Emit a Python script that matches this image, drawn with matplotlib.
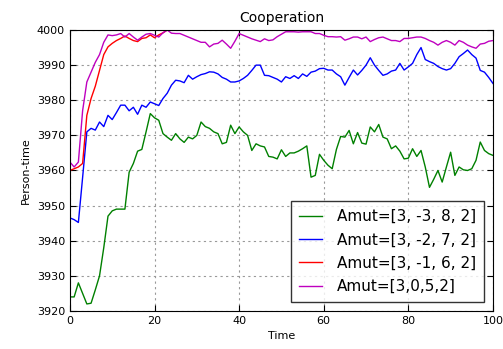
import matplotlib.pyplot as plt

# time steps shared by most runs
time = list(range(101))

amut_m3 = [3924, 3924, 3928, 3925, 3922, 3922.2, 3926, 3930, 3938, 3947,
           3948.5, 3949, 3949, 3949, 3959.5, 3962, 3965.5, 3966, 3971, 3976.2,
           3975, 3974.3, 3970.5, 3969.5, 3968.6, 3970.5, 3969, 3968, 3969.5, 3969,
           3970, 3973.8, 3972.5, 3972, 3971, 3970.5, 3967.6, 3968, 3972.9, 3970.5,
           3972.4, 3971, 3970, 3965.7, 3967.6, 3967, 3966.7, 3964, 3963.8, 3963.3,
           3965.9, 3964, 3965, 3965, 3965.5, 3966.2, 3967, 3958.1, 3958.6, 3964.6,
           3962.9, 3961.5, 3960.5, 3966, 3969.7, 3969.5, 3971.4, 3967.6, 3970.8, 3967.8,
           3967.5, 3972.4, 3971, 3973.1, 3969.5, 3969, 3966.2, 3967, 3965.5, 3963.3,
           3963.5, 3966.2, 3964, 3965.7, 3961, 3955.2, 3957.5, 3960, 3956.7, 3961,
           3965.2, 3958.6, 3961, 3960.2, 3960, 3960.5, 3962.9, 3968.1, 3965.7, 3964.8,
           3964.3]

amut_m2 = [3946.5, 3946, 3945.2, 3958, 3971, 3972, 3971.5, 3973.8, 3972.5, 3975.7,
           3974.5, 3976.5, 3978.6, 3978.6, 3977, 3978, 3976, 3978.6, 3978, 3979.5,
           3979, 3978.5, 3980.5, 3982, 3984.3, 3985.7, 3985.5, 3985, 3987.1, 3986,
           3986.7, 3987.3, 3987.6, 3988.1, 3988, 3987.5, 3986.5, 3986, 3985.2, 3985.2,
           3985.5, 3986.2, 3987.1, 3988.5, 3990, 3990, 3987.1, 3987, 3986.5, 3986,
           3985.2, 3986.7, 3986.2, 3987, 3986.2, 3987.5, 3986.8, 3988, 3988.3, 3989,
           3989.1, 3988.6, 3988.6, 3987.5, 3986.7, 3984.3, 3986.5, 3988.6, 3987.2, 3988.5,
           3990, 3992.1, 3990, 3988.5, 3987.1, 3987.5, 3988.3, 3988.6, 3990.5, 3988.6,
           3989.5, 3990.5, 3993, 3995, 3991.6, 3991, 3990.5, 3989.6, 3989, 3988.6,
           3989, 3990.5, 3992.4, 3993.3, 3994.3, 3993, 3992, 3988.5, 3988, 3986.5,
           3984.8]

# this run saturates at 4000 after t=23
time_m1 = list(range(24)) + [100]
amut_m1 = [3960, 3960.5, 3961, 3962, 3975.7, 3980.5, 3984, 3988.5, 3993, 3995.2,
           3996.2, 3997, 3997.6, 3998.3, 3997.6, 3997, 3996.7, 3997.6, 3997.8, 3998.6,
           3997.8, 3998.6, 3999.2, 4000, 4000]

amut_0 = [3962.4, 3961, 3962.4, 3977, 3985.2, 3988, 3990.8, 3993, 3996.5, 3998.6,
          3998.4, 3998.6, 3999, 3998, 3999, 3998, 3997.1, 3998, 3998.8, 3999,
          3998.5, 3998, 3999.2, 4000, 3999.1, 3999, 3999, 3998.5, 3998, 3997.5,
          3997, 3996.5, 3996.5, 3995.2, 3996, 3996.2, 3997.1, 3996, 3994.8, 3996.8,
          3999, 3998.5, 3998, 3997.5, 3997.1, 3996.7, 3997.5, 3997, 3997.2, 3998.1,
          3998.8, 3999.5, 3999.5, 3999.5, 3999.4, 3999.5, 3999.5, 3999.5, 3999, 3999,
          3998.5, 3998.1, 3998.1, 3998, 3998.1, 3997.1, 3997.5, 3998, 3998, 3997.5,
          3998, 3996.7, 3997.3, 3997.8, 3998, 3997.5, 3997, 3997, 3996.7, 3997.6,
          3997.6, 3997.8, 3998, 3998, 3997.6, 3997, 3996.5, 3995.7, 3996.5, 3997,
          3996.5, 3995.7, 3997, 3996.5, 3995.7, 3995.2, 3994.8, 3996, 3996.2, 3996.8,
          3997]

labels = ["Amut=[3, -3, 8, 2]", "Amut=[3, -2, 7, 2]", "Amut=[3, -1, 6, 2]", "Amut=[3,0,5,2]"]
colors = ["g", "b", "r", "m"]


def plot_graph():
    fig = plt.figure(figsize=(5.03, 3.49), dpi=100)
    ax = fig.add_axes([0.139, 0.109, 0.841, 0.805])

    series = [(time, amut_m3), (time, amut_m2), (time_m1, amut_m1), (time, amut_0)]
    for (t, v), lab, c in zip(series, labels, colors):
        ax.plot(t, v, color=c, linewidth=1.0, label=lab)

    ax.set_xlim(0, 100)
    ax.set_ylim(3920, 4000)
    ax.set_xticks(range(0, 101, 20))
    ax.set_yticks(range(3920, 4001, 10))

    ax.set_title("Cooperation", fontsize=10)
    ax.set_xlabel("Time", fontsize=8)
    ax.set_ylabel("Person-time", fontsize=8)

    # old-style ticks: inward, on all four sides
    ax.tick_params(direction="in", top=True, right=True, labelsize=8, length=4)
    ax.grid(True, color="0.6", linestyle=(0, (2, 3)), linewidth=0.8)

    leg = ax.legend(loc="lower right", fontsize=11, fancybox=False,
                    borderaxespad=0.6, borderpad=0.5, labelspacing=0.55,
                    handlelength=1.5, handletextpad=1.0)
    leg.get_frame().set_edgecolor("black")
    leg.get_frame().set_linewidth(1.0)

    fig.savefig("out.png", dpi=100)


if __name__ == "__main__":
    plot_graph()
